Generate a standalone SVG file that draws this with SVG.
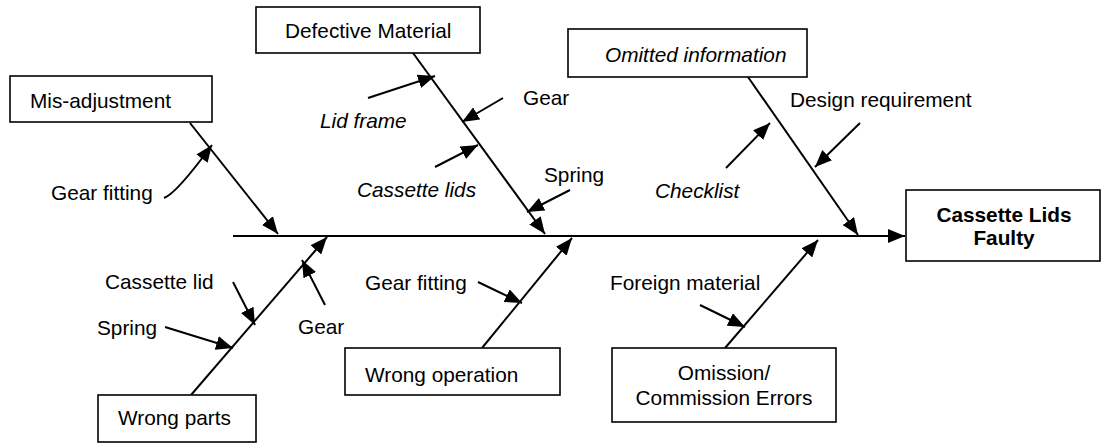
<svg xmlns="http://www.w3.org/2000/svg" width="1103" height="445" viewBox="0 0 1103 445">
<style>
text{font-family:"Liberation Sans",Arial,sans-serif;font-size:20.8px;fill:#000}
.i{font-style:italic}
.b{font-weight:bold}
.box{fill:#fff;stroke:#000;stroke-width:1.6}
.ln{fill:none;stroke:#000;stroke-width:2}
</style>
<defs>
<marker id="ah" markerUnits="userSpaceOnUse" markerWidth="18" markerHeight="14" refX="17" refY="7" orient="auto">
<path d="M0,0 L17,7 L0,14 z" fill="#000"/>
</marker>
</defs>
<g id="connectors">
<line class="ln" x1="233" y1="236" x2="905" y2="236" marker-end="url(#ah)"/>
<line class="ln" x1="190" y1="123" x2="278" y2="234" marker-end="url(#ah)"/>
<path class="ln" d="M164,198 Q176,194 212,145" marker-end="url(#ah)"/>
<line class="ln" x1="413" y1="53" x2="545" y2="234" marker-end="url(#ah)"/>
<line class="ln" x1="368" y1="98" x2="435" y2="76" marker-end="url(#ah)"/>
<line class="ln" x1="503" y1="98" x2="462" y2="122" marker-end="url(#ah)"/>
<line class="ln" x1="435" y1="167" x2="478" y2="145" marker-end="url(#ah)"/>
<line class="ln" x1="570" y1="190" x2="527" y2="212" marker-end="url(#ah)"/>
<line class="ln" x1="748" y1="77" x2="858" y2="235" marker-end="url(#ah)"/>
<line class="ln" x1="726" y1="168" x2="770" y2="123" marker-end="url(#ah)"/>
<line class="ln" x1="860" y1="123" x2="815" y2="167" marker-end="url(#ah)"/>
<line class="ln" x1="191" y1="395" x2="327" y2="237" marker-end="url(#ah)"/>
<line class="ln" x1="233" y1="282" x2="255" y2="325" marker-end="url(#ah)"/>
<line class="ln" x1="165" y1="327" x2="233" y2="348" marker-end="url(#ah)"/>
<line class="ln" x1="325" y1="305" x2="302" y2="260" marker-end="url(#ah)"/>
<line class="ln" x1="482" y1="348" x2="572" y2="238" marker-end="url(#ah)"/>
<line class="ln" x1="478" y1="282" x2="522" y2="303" marker-end="url(#ah)"/>
<line class="ln" x1="725" y1="348" x2="818" y2="240" marker-end="url(#ah)"/>
<line class="ln" x1="700" y1="305" x2="745" y2="327" marker-end="url(#ah)"/>
</g>
<g id="effect">
<rect class="box" x="906" y="190" width="194" height="71"/>
<text class="b" x="1004" y="222" text-anchor="middle">Cassette Lids</text>
<text class="b" x="1004" y="245" text-anchor="middle">Faulty</text>
</g>
<g id="mis-adjustment">
<rect class="box" x="10" y="76" width="202" height="46"/>
<text x="30" y="108">Mis-adjustment</text>
<text x="51" y="200">Gear fitting</text>
</g>
<g id="defective-material">
<rect class="box" x="256" y="7" width="224" height="46"/>
<text x="285" y="38">Defective Material</text>
<text class="i" x="320" y="128">Lid frame</text>
<text x="523" y="105">Gear</text>
<text class="i" x="357" y="197">Cassette lids</text>
<text x="544" y="182">Spring</text>
</g>
<g id="omitted-information">
<rect class="box" x="568" y="29" width="239" height="48"/>
<text class="i" x="605" y="62">Omitted information</text>
<text class="i" x="655" y="198">Checklist</text>
<text x="790" y="107">Design requirement</text>
</g>
<g id="wrong-parts">
<rect class="box" x="98" y="395" width="158" height="47"/>
<text x="118" y="425">Wrong parts</text>
<text x="105" y="289">Cassette lid</text>
<text x="97" y="335">Spring</text>
<text x="298" y="334">Gear</text>
</g>
<g id="wrong-operation">
<rect class="box" x="345" y="348" width="215" height="47"/>
<text x="365" y="382">Wrong operation</text>
<text x="365" y="290">Gear fitting</text>
</g>
<g id="omission-commission">
<rect class="box" x="612" y="348" width="224" height="74"/>
<text x="724" y="380" text-anchor="middle">Omission/</text>
<text x="724" y="405" text-anchor="middle">Commission Errors</text>
<text x="610" y="290">Foreign material</text>
</g>
</svg>
